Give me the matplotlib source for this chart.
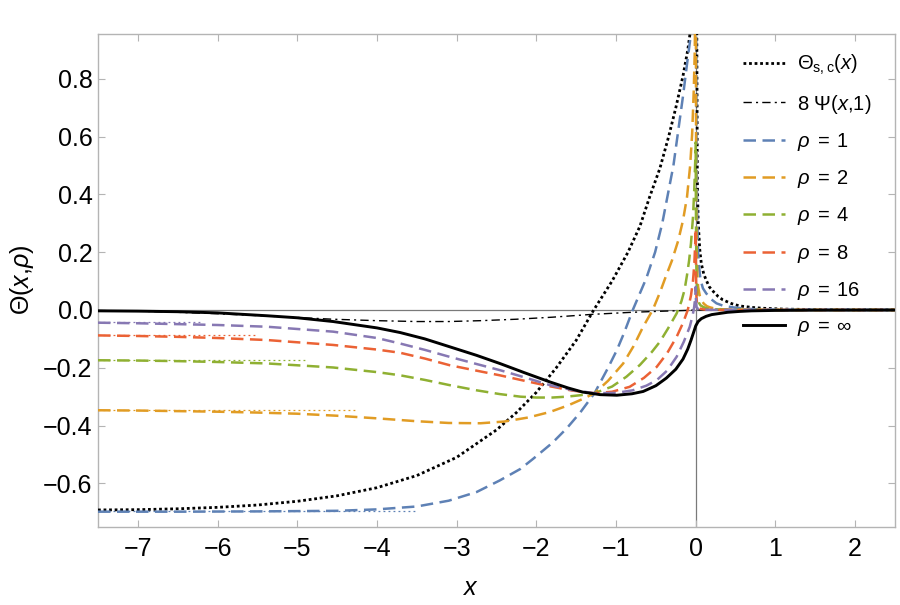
import matplotlib
matplotlib.use("Agg")
import matplotlib.pyplot as plt
import numpy as np

plt.rcParams['font.family'] = ['Liberation Sans', 'DejaVu Sans']
plt.rcParams['mathtext.fontset'] = 'custom'
plt.rcParams['mathtext.rm'] = 'Liberation Sans'
plt.rcParams['mathtext.it'] = 'Liberation Sans:italic'
plt.rcParams['mathtext.bf'] = 'Liberation Sans:bold'

# ---------------- data ----------------
# Theta_{s,c}(x): left branch and right branch (diverges at x = 0)
sc_left_x = [-7.5, -7.0, -6.5, -6.0, -5.5, -5.0, -4.5, -4.0, -3.5, -3.0, -2.5, -2.25, -2.0,
             -1.75, -1.5, -1.28, -1.05, -0.85, -0.7, -0.58, -0.45, -0.34, -0.25, -0.16, -0.1,
             -0.075, -0.05]
sc_left_y = [-0.692, -0.691, -0.688, -0.683, -0.675, -0.662, -0.643, -0.615, -0.573, -0.51,
             -0.415, -0.355, -0.285, -0.2, -0.105, 0.0, 0.1, 0.2, 0.29, 0.39, 0.49, 0.6, 0.7,
             0.81, 0.9, 0.95, 1.02]
sc_right_x = [0.01, 0.02, 0.03, 0.05, 0.07, 0.1, 0.13, 0.17, 0.22, 0.28, 0.34, 0.45, 0.55, 0.7,
              0.84, 1.1, 1.5, 2.0, 2.5]
sc_right_y = [1.2, 0.45, 0.31, 0.21, 0.16, 0.125, 0.104, 0.08, 0.064, 0.047, 0.035, 0.022,
              0.014, 0.009, 0.006, 0.003, 0.0015, 0.0008, 0.0005]

# 8 Psi(x,1)
psi_x = [-7.5, -7.0, -6.5, -6.0, -5.38, -5.0, -4.55, -4.0, -3.5, -3.1, -2.7, -2.25, -1.8, -1.29,
         -0.8, -0.4, -0.16, 0.0, 0.5, 2.5]
psi_y = [-0.002, -0.004, -0.008, -0.013, -0.021, -0.026, -0.032, -0.037, -0.04, -0.04, -0.037,
         -0.032, -0.025, -0.015, -0.008, -0.004, -0.002, 0.0, 0.0, 0.0]

# rho = 1
r1_x = [-7.5, -6.5, -5.5, -4.5, -4.0, -3.5, -3.1, -2.75, -2.46, -2.2, -2.04, -1.8, -1.62, -1.45,
        -1.27, -1.1, -0.99, -0.9, -0.79, -0.62, -0.51, -0.42, -0.35, -0.28, -0.23, -0.16, -0.11,
        -0.063, -0.03, 0.0, 0.01, 0.02, 0.03, 0.045, 0.06, 0.09, 0.13, 0.19, 0.26, 0.35, 0.47,
        0.6, 0.72, 1.0, 1.5, 2.5]
r1_y = [-0.698, -0.698, -0.697, -0.695, -0.69, -0.68, -0.66, -0.63, -0.59, -0.55, -0.515, -0.46,
        -0.41, -0.355, -0.288, -0.2, -0.139, -0.08, 0.0, 0.11, 0.2, 0.3, 0.4, 0.5, 0.6, 0.74, 0.85,
        0.95, 1.1, 1.5, 0.55, 0.3, 0.2, 0.14, 0.104, 0.075, 0.058, 0.038, 0.023, 0.014, 0.009,
        0.005, 0.003, 0.0015, 0.0006, 0.0002]

# rho = 2
r2_x = [-7.5, -7.0, -6.5, -6.0, -5.5, -5.0, -4.5, -4.0, -3.5, -3.1, -2.7, -2.4, -2.1, -1.83, -1.6,
        -1.41, -1.27, -1.1, -0.91, -0.78, -0.66, -0.54, -0.45, -0.37, -0.3, -0.22, -0.16, -0.11,
        -0.07, -0.045, -0.025, -0.012, 0.0, 0.005, 0.012, 0.02, 0.03, 0.05, 0.07, 0.1, 0.14, 0.18,
        0.25, 0.35, 0.6, 1.0, 2.5]
r2_y = [-0.347, -0.348, -0.35, -0.352, -0.355, -0.359, -0.366, -0.375, -0.385, -0.391, -0.392,
        -0.386, -0.372, -0.353, -0.33, -0.307, -0.288, -0.245, -0.185, -0.125, -0.058, 0.0, 0.06,
        0.12, 0.17, 0.24, 0.31, 0.39, 0.5, 0.61, 0.76, 0.9, 1.3, 0.4, 0.2, 0.12, 0.08, 0.05,
        0.035, 0.022, 0.013, 0.009, 0.004, 0.002, 0.0007, 0.0002, 0.0]

# rho = 4
r4_x = [-7.5, -7.0, -6.5, -6.0, -5.38, -4.55, -4.0, -3.71, -3.4, -3.09, -2.75, -2.46, -2.2, -2.0,
        -1.8, -1.62, -1.45, -1.27, -1.05, -0.87, -0.7, -0.55, -0.45, -0.35, -0.24, -0.18, -0.14,
        -0.11, -0.084, -0.06, -0.035, -0.018, -0.006, 0.0, 0.003, 0.008, 0.015, 0.02, 0.04, 0.06,
        0.09, 0.13, 0.2, 0.4, 1.0, 2.5]
r4_y = [-0.174, -0.175, -0.177, -0.18, -0.185, -0.199, -0.215, -0.226, -0.242, -0.26, -0.278,
        -0.291, -0.3, -0.303, -0.303, -0.3, -0.295, -0.288, -0.265, -0.231, -0.19, -0.145, -0.11,
        -0.065, -0.012, 0.03, 0.07, 0.12, 0.17, 0.23, 0.32, 0.42, 0.52, 0.58, 0.3, 0.15, 0.08,
        0.05, 0.025, 0.016, 0.011, 0.006, 0.003, 0.001, 0.0, 0.0]

# rho = 8
r8_x = [-7.5, -7.0, -6.5, -6.0, -5.38, -4.55, -4.0, -3.71, -3.4, -3.09, -2.75, -2.46, -2.1, -1.83,
        -1.55, -1.27, -1.05, -0.83, -0.65, -0.49, -0.36, -0.24, -0.16, -0.1, -0.06, -0.035,
        -0.018, -0.008, 0.0, 0.003, 0.008, 0.015, 0.03, 0.06, 0.12, 0.3, 2.5]
r8_y = [-0.088, -0.09, -0.093, -0.097, -0.104, -0.121, -0.137, -0.148, -0.168, -0.191, -0.21,
        -0.226, -0.248, -0.264, -0.279, -0.288, -0.283, -0.266, -0.235, -0.197, -0.15, -0.093,
        -0.045, 0.0, 0.05, 0.1, 0.16, 0.22, 0.28, 0.12, 0.05, 0.025, 0.01, 0.004, 0.001, 0.0, 0.0]

# rho = 16
r16_x = [-7.5, -7.0, -6.5, -6.0, -5.38, -4.55, -4.0, -3.71, -3.4, -3.09, -2.75, -2.46, -2.15,
         -1.83, -1.55, -1.27, -1.0, -0.79, -0.62, -0.49, -0.36, -0.24, -0.15, -0.075, -0.04,
         -0.02, -0.008, 0.0, 0.003, 0.01, 0.03, 0.1, 2.5]
r16_y = [-0.044, -0.046, -0.049, -0.052, -0.058, -0.075, -0.097, -0.116, -0.138, -0.162, -0.187,
         -0.208, -0.233, -0.26, -0.277, -0.288, -0.287, -0.278, -0.262, -0.243, -0.21, -0.162,
         -0.11, -0.058, -0.02, 0.01, 0.04, 0.08, 0.03, 0.01, 0.003, 0.0005, 0.0]

# rho = infinity
rinf_x = [-7.5, -7.0, -6.5, -6.0, -5.38, -5.0, -4.55, -4.0, -3.71, -3.4, -3.08, -2.75, -2.46,
          -2.15, -1.83, -1.6, -1.42, -1.2, -0.99, -0.8, -0.66, -0.5, -0.37, -0.25, -0.16, -0.1,
          -0.06, -0.03, 0.0, 0.03, 0.07, 0.13, 0.2, 0.3, 0.4, 0.55, 0.7, 1.0, 1.5, 2.5]
rinf_y = [-0.003, -0.004, -0.006, -0.01, -0.02, -0.027, -0.04, -0.062, -0.078, -0.1, -0.128,
          -0.157, -0.185, -0.217, -0.249, -0.27, -0.284, -0.293, -0.295, -0.29, -0.282, -0.262,
          -0.236, -0.205, -0.17, -0.135, -0.105, -0.08, -0.055, -0.04, -0.03, -0.022, -0.016,
          -0.012, -0.008, -0.005, -0.003, -0.0015, -0.0006, -0.0002]

# asymptotic (x -> -inf) limits drawn as thin dotted lines
asym_levels = [-0.695, -0.347, -0.174, -0.087, -0.043]
asym_end_x = [-3.48, -4.24, -4.88, -5.53, -6.18]

rho_labels = ['1', '2', '4', '8', '16']
colors = ['#5E81B5', '#E19C24', '#8FB032', '#EB6235', '#8778B3']

x_ticks = [-7, -6, -5, -4, -3, -2, -1, 0, 1, 2]
y_ticks = [-0.6, -0.4, -0.2, 0.0, 0.2, 0.4, 0.6, 0.8]
x_range = (-7.5, 2.5)
y_range = (-0.751, 0.955)

# ---------------- figure ----------------
fig = plt.figure(figsize=(9.0, 6.05), dpi=100)
ax = fig.add_axes([98 / 900, 1 - 527 / 605, (895 - 98) / 900, (527 - 34) / 605])

ax.axhline(0, color='#7a7a7a', lw=0.9, zorder=1)
ax.axvline(0, color='#7a7a7a', lw=0.9, zorder=1)

# asymptote guides
for lvl, xe, c in zip(asym_levels, asym_end_x, colors):
    ax.plot([x_range[0], xe], [lvl, lvl], color=c, lw=0.9, dashes=(1.5, 2.5), zorder=2)

ax.plot(sc_left_x, sc_left_y, color='black', lw=2.0, dashes=(1.0, 1.0), zorder=3,
        label=r'$\Theta_{\mathrm{s,c}}(x)$')
ax.plot(sc_right_x, sc_right_y, color='black', lw=2.0, dashes=(1.0, 1.0), zorder=3)

ax.plot(psi_x, psi_y, color='black', lw=1.0, dashes=(6, 3, 1.5, 3), zorder=3,
        label=r'$8\ \Psi(x{,}1)$')

series = [(r1_x, r1_y), (r2_x, r2_y), (r4_x, r4_y), (r8_x, r8_y), (r16_x, r16_y)]
for (xs, ys), c, lab in zip(series, colors, rho_labels):
    ax.plot(xs, ys, color=c, lw=1.8, dashes=(5, 2.6), zorder=4,
            label=r'$\rho\;=\;' + lab + '$')

ax.plot(rinf_x, rinf_y, color='black', lw=2.1, zorder=5, label=r'$\rho\;=\;\infty$')

ax.set_xlim(*x_range)
ax.set_ylim(*y_range)
ax.set_xticks(x_ticks)
ax.set_yticks(y_ticks)
ax.set_xticklabels([('\u2212' + str(-t)) if t < 0 else str(t) for t in x_ticks])
ax.set_yticklabels([('\u2212%.1f' % -t) if t < 0 else '%.1f' % t for t in y_ticks])

for s in ax.spines.values():
    s.set_color('#b4b4b4')
    s.set_linewidth(1.0)
ax.tick_params(axis='both', which='major', direction='in', length=5, width=0.8,
               color='#b4b4b4', labelsize=18, labelcolor='black',
               top=True, right=True)
ax.tick_params(axis='x', pad=7)
ax.tick_params(axis='y', pad=4)

fig.text(470 / 900, 1 - 588 / 605, r'$x$', fontsize=18, ha='center', va='center')
fig.text(22 / 900, 1 - 280 / 605, r'$\Theta(x{,}\rho)$', fontsize=18, ha='center',
         va='center', rotation=90)

leg = ax.legend(loc='upper left', bbox_to_anchor=(743 / 900, 1 - 53 / 605),
                bbox_transform=fig.transFigure, frameon=False, fontsize=14.5,
                handlelength=2.1, handletextpad=0.6, labelspacing=0.76,
                borderpad=0, borderaxespad=0)

fig.savefig('out.png', dpi=100)
